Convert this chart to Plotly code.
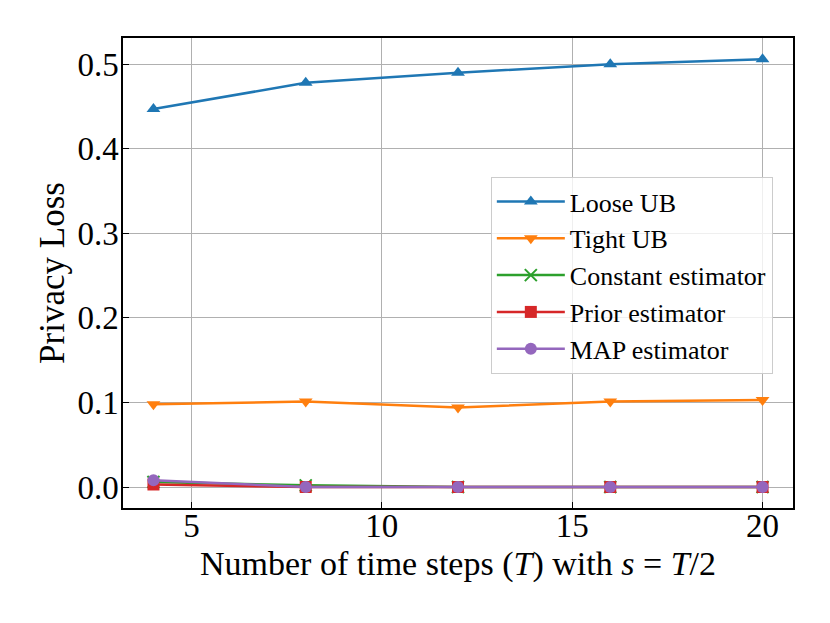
import plotly.graph_objects as go

# Data
time_steps = [4, 8, 12, 16, 20]
loose_ub = [0.447, 0.478, 0.490, 0.500, 0.506]
tight_ub = [0.098, 0.101, 0.094, 0.101, 0.103]
constant_est = [0.006, 0.002, 0.000, 0.000, 0.000]
prior_est = [0.003, 0.000, 0.000, 0.000, 0.000]
map_est = [0.008, 0.000, 0.000, 0.000, 0.000]

series = [
    ("Loose UB", loose_ub, "#1f77b4", "triangle-up"),
    ("Tight UB", tight_ub, "#ff7f0e", "triangle-down"),
    ("Constant estimator", constant_est, "#2ca02c", "x-thin"),
    ("Prior estimator", prior_est, "#d62728", "square"),
    ("MAP estimator", map_est, "#9467bd", "circle"),
]

fig = go.Figure()
for name, vals, color, symbol in series:
    fig.add_trace(go.Scatter(
        x=time_steps, y=vals, name=name, mode="lines+markers",
        line=dict(color=color, width=2.5),
        marker=dict(symbol=symbol, size=12, color=color,
                    line=dict(color=color, width=2 if symbol == "x-thin" else 0)),
    ))

axis_common = dict(
    showline=True, linecolor="black", linewidth=1.5, mirror=True,
    ticks="inside", ticklen=6, tickwidth=1.2, tickcolor="black",
    showgrid=True, gridcolor="#b0b0b0", gridwidth=1, zeroline=False,
    tickfont=dict(size=33, color="black"),
)

fig.update_xaxes(
    range=[3.2, 20.8], tickvals=[5, 10, 15, 20],
    ticklabelstandoff=-12,
    title=dict(text="Number of time steps (<i>T</i>) with <i>s</i> = <i>T</i>/2",
               font=dict(size=34, color="black"), standoff=8),
    **axis_common,
)
fig.update_yaxes(
    range=[-0.0248, 0.531], tickvals=[0.0, 0.1, 0.2, 0.3, 0.4, 0.5],
    tickformat=".1f", ticklabelstandoff=-4,
    title=dict(text="Privacy Loss", font=dict(size=35, color="black"), standoff=2),
    **axis_common,
)

# page body adds 8px offset, so margins are shifted to compensate
fig.update_layout(
    width=830, height=623,
    margin=dict(l=115, r=45, t=30, b=123),
    paper_bgcolor="white", plot_bgcolor="white",
    font=dict(family="'Liberation Serif', 'Times New Roman', serif", color="black"),
    legend=dict(
        x=0.549, y=0.704, xanchor="left", yanchor="top",
        bgcolor="rgba(255,255,255,0.8)", bordercolor="#cccccc", borderwidth=1,
        font=dict(size=26, color="black"), itemwidth=68,
    ),
)

fig.write_html("out.html")
